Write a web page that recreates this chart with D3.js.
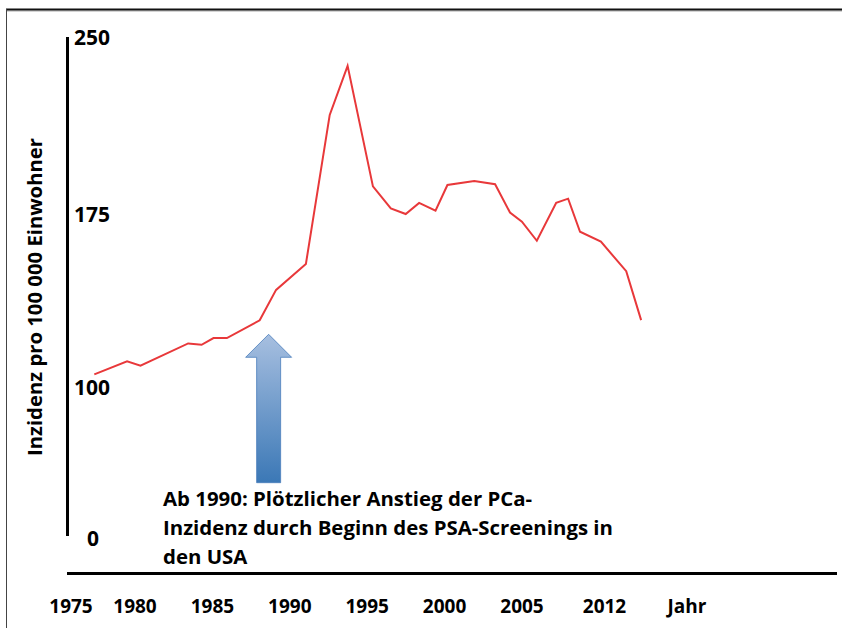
<!DOCTYPE html>
<html>
<head>
<meta charset="utf-8">
<script src="https://cdn.jsdelivr.net/npm/d3@7/dist/d3.min.js"></script>
<style>
  html, body { margin: 0; padding: 0; background: #fff; }
  svg { display: block; font-family: "Open Sans", Lato, sans-serif; }
</style>
</head>
<body>
<svg id="chart" width="842" height="628"></svg>
<script>
// ---- data ----
const years = [1975.0, 1977.2, 1978.1, 1981.3, 1982.2, 1983.0, 1983.9, 1986.1, 1987.2, 1989.2,
               1990.8, 1992.0, 1993.7, 1994.9, 1995.9, 1996.8, 1997.9, 1998.7, 2000.5, 2001.9,
               2002.9, 2003.7, 2004.7, 2006.0, 2006.8, 2007.6, 2009.0, 2010.7, 2011.7];
const incidence = [105.5, 111.1, 109.2, 118.9, 118.3, 121.2, 121.2, 128.9, 142.1, 153.3,
                   217.0, 237.8, 186.7, 177.4, 175.0, 179.7, 176.4, 187.3, 189.0, 187.6,
                   175.6, 171.7, 163.4, 179.7, 181.5, 167.3, 163.0, 150.2, 129.0];
const yTickValues = [0, 100, 175, 250];
const xTickLabels = ["1975", "1980", "1985", "1990", "1995", "2000", "2005", "2012", "Jahr"];
const yTitle = "Inzidenz pro 100 000 Einwohner";
const noteLines = ["Ab 1990: Plötzlicher Anstieg der PCa-",
                   "Inzidenz durch Beginn des PSA-Screenings in",
                   "den USA"];
const arrowYear = 1986.7;

// ---- scales ----
const svg = d3.select("#chart");
const x = d3.scaleLinear().domain([1975, 2012]).range([94.3, 645.6]);
// the original axis is not linear: labels are spaced unevenly
const y = d3.scaleLinear().domain([0, 100, 175, 250]).range([538, 387, 214, 37]);
const xLab = d3.scaleLinear().domain([0, 1, 6, 8]).range([71, 135, 522, 687]);

// ---- frame ----
svg.append("line").attr("x1", 6).attr("x2", 842).attr("y1", 11).attr("y2", 11)
  .attr("stroke", "#aaa").attr("stroke-width", 1);
svg.append("line").attr("x1", 6).attr("x2", 842).attr("y1", 9.5).attr("y2", 9.5)
  .attr("stroke", "#111").attr("stroke-width", 2);
svg.append("line").attr("x1", 6.5).attr("x2", 6.5).attr("y1", 9).attr("y2", 628)
  .attr("stroke", "#444").attr("stroke-width", 1);

// ---- axes lines ----
svg.append("line").attr("x1", 67.5).attr("x2", 67.5).attr("y1", 37).attr("y2", 536)
  .attr("stroke", "#000").attr("stroke-width", 3);
svg.append("line").attr("x1", 67).attr("x2", 837).attr("y1", 573.5).attr("y2", 573.5)
  .attr("stroke", "#000").attr("stroke-width", 3);

// ---- y tick labels ----
svg.append("g").selectAll("text").data(yTickValues).join("text")
  .attr("x", d => d === 0 ? 87 : 74)
  .attr("y", d => y(d))
  .attr("dy", "0.36em")
  .attr("font-size", 21).attr("font-weight", "bold").attr("fill", "#000")
  .text(d => d);

// ---- x tick labels ----
svg.append("g").selectAll("text").data(xTickLabels).join("text")
  .attr("x", (d, i) => xLab(i))
  .attr("y", 613)
  .attr("text-anchor", "middle")
  .attr("font-size", 19).attr("font-weight", "bold").attr("fill", "#000")
  .text(d => d);

// ---- y title ----
svg.append("text")
  .attr("transform", "translate(42,297) rotate(-90)")
  .attr("text-anchor", "middle")
  .attr("font-size", 20.3).attr("font-weight", "bold").attr("fill", "#000")
  .text(yTitle);

// ---- data line ----
const pts = years.map((yr, i) => [yr, incidence[i]]);
svg.append("path")
  .datum(pts)
  .attr("fill", "none")
  .attr("stroke", "#e8383a")
  .attr("stroke-width", 2)
  .attr("stroke-linejoin", "miter")
  .attr("d", d3.line().x(d => x(d[0])).y(d => y(d[1])));

// ---- arrow annotation ----
const defs = svg.append("defs");
const grad = defs.append("linearGradient").attr("id", "arrowGrad")
  .attr("x1", 0).attr("y1", 0).attr("x2", 0).attr("y2", 1);
grad.append("stop").attr("offset", "0%").attr("stop-color", "#a7bfe0");
grad.append("stop").attr("offset", "100%").attr("stop-color", "#3b78b6");
const ax = x(arrowYear);
const tipY = 334.3, headY = 357.3, botY = 482.7;
const arrowPath = d3.path();
arrowPath.moveTo(ax, tipY);
arrowPath.lineTo(ax + 23, headY);
arrowPath.lineTo(ax + 12, headY);
arrowPath.lineTo(ax + 12, botY);
arrowPath.lineTo(ax - 12, botY);
arrowPath.lineTo(ax - 12, headY);
arrowPath.lineTo(ax - 23, headY);
arrowPath.closePath();
svg.append("path").attr("d", arrowPath.toString())
  .attr("fill", "url(#arrowGrad)")
  .attr("stroke", "#4a7ebb").attr("stroke-width", 0.8);

// ---- note text ----
svg.append("g").selectAll("text").data(noteLines).join("text")
  .attr("x", 163)
  .attr("y", (d, i) => 505.5 + i * 29)
  .attr("font-size", 20.4).attr("font-weight", "bold").attr("fill", "#000")
  .text(d => d);
</script>
</body>
</html>
